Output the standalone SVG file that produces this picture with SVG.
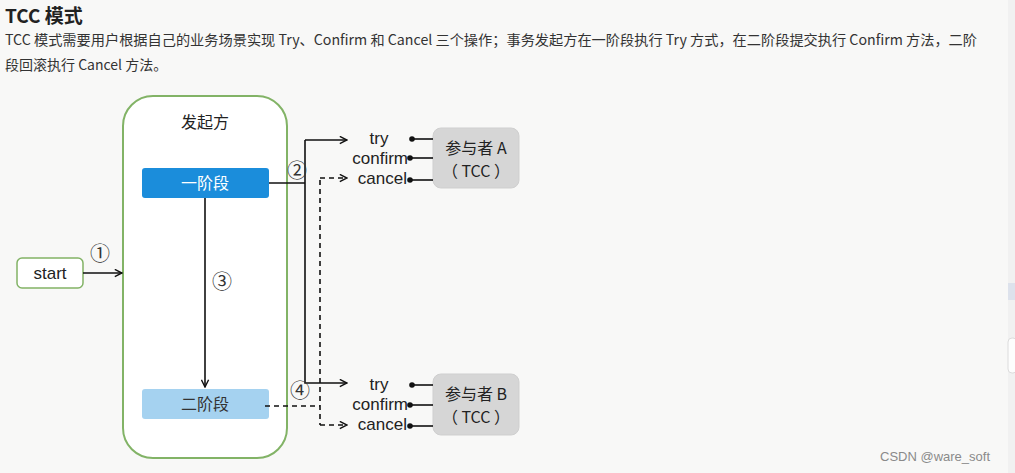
<svg xmlns="http://www.w3.org/2000/svg" width="1015" height="473" viewBox="0 0 1015 473">
<style>
text{font-family:"Liberation Sans","Noto Sans CJK SC",sans-serif;fill:#222}
.cn{font-family:"Noto Sans CJK SC","Liberation Sans",sans-serif}
.p{font-size:14px;fill:#333}
.lbl{font-size:17px;text-anchor:middle}
.num{font-size:20px;text-anchor:middle;fill:#333}
.ln{stroke:#111;stroke-width:1.6;fill:none}
.dash{stroke:#111;stroke-width:1.6;fill:none;stroke-dasharray:5 4}
.part{fill:#d6d6d6;stroke:#cfcfcf}
</style>
<defs>
<marker id="ar" viewBox="0 0 10 10" refX="9" refY="5" markerWidth="9" markerHeight="9" markerUnits="userSpaceOnUse" orient="auto">
<path d="M1,1 L9,5 L1,9" fill="none" stroke="#111" stroke-width="1.6"/>
</marker>
<marker id="dot" viewBox="0 0 6 6" refX="3" refY="3" markerWidth="6" markerHeight="6" markerUnits="userSpaceOnUse">
<circle cx="3" cy="3" r="2.8" fill="#111"/>
</marker>
</defs>
<rect width="1015" height="473" fill="#f8f8f7"/>
<rect x="1008" y="0" width="7" height="473" fill="#f1f1f1"/>
<rect x="1008" y="283" width="7" height="17" fill="#dde2ec"/>
<rect x="1008" y="338" width="9" height="35" rx="4" fill="#fdfdfd" stroke="#dcdcdc"/>

<g id="header">
<text x="5" y="23" class="cn" style="font-size:19px;font-weight:bold;fill:#222">TCC 模式</text>
<text x="5" y="45" class="cn p" textLength="972" lengthAdjust="spacingAndGlyphs">TCC 模式需要用户根据自己的业务场景实现 Try、Confirm 和 Cancel 三个操作；事务发起方在一阶段执行 Try 方式，在二阶段提交执行 Confirm 方法，二阶</text>
<text x="5" y="70" class="cn p">段回滚执行 Cancel 方法。</text>
</g>

<g id="initiator">
<rect x="123" y="96" width="164" height="362" rx="30" fill="#fff" stroke="#82b366" stroke-width="2"/>
<text x="205" y="128" class="cn lbl" style="font-size:16px">发起方</text>
</g>
<g id="phase1">
<rect x="142" y="168" width="127" height="30" rx="3" fill="#1b8ddb"/>
<text x="205" y="189" class="cn lbl" style="font-size:16px;fill:#fff">一阶段</text>
</g>
<g id="phase2">
<rect x="142" y="389" width="127" height="30" rx="3" fill="#a5d2f0"/>
<text x="205" y="410" class="cn lbl" style="font-size:16px;fill:#333">二阶段</text>
</g>
<g id="start">
<rect x="17" y="258" width="66" height="30" rx="5" fill="#fff" stroke="#82b366" stroke-width="1.5"/>
<text x="50" y="279" class="lbl">start</text>
</g>
<g id="participantA">
<rect x="433" y="128" width="86" height="60" rx="8" class="part"/>
<text x="476" y="154" class="cn lbl" style="font-size:16px">参与者 A</text>
<text x="476" y="177" class="cn lbl" style="font-size:16px">（ TCC ）</text>
</g>
<g id="participantB">
<rect x="433" y="374" width="86" height="61" rx="8" class="part"/>
<text x="476" y="400" class="cn lbl" style="font-size:16px">参与者 B</text>
<text x="476" y="423" class="cn lbl" style="font-size:16px">（ TCC ）</text>
</g>

<g id="connectors">
<line x1="83" y1="273" x2="122" y2="273" class="ln" marker-end="url(#ar)"/>
<line x1="205" y1="198" x2="205" y2="387" class="ln" marker-end="url(#ar)"/>
<path d="M269,183 H305" class="ln"/>
<path d="M305,140 V383 H347" class="ln" marker-end="url(#ar)"/>
<line x1="305" y1="140" x2="347" y2="140" class="ln" marker-end="url(#ar)"/>
<path d="M265,406 H320" class="dash"/>
<path d="M320,180 V425" class="dash"/>
<line x1="320" y1="178" x2="347" y2="178" class="dash" marker-end="url(#ar)"/>
<line x1="320" y1="425" x2="347" y2="425" class="dash" marker-end="url(#ar)"/>
<line x1="412" y1="139" x2="433" y2="139" class="ln" marker-start="url(#dot)"/>
<line x1="410" y1="158" x2="433" y2="158" class="ln" marker-start="url(#dot)"/>
<line x1="410" y1="180" x2="433" y2="180" class="ln" marker-start="url(#dot)"/>
<line x1="412" y1="385" x2="433" y2="385" class="ln" marker-start="url(#dot)"/>
<line x1="410" y1="405" x2="433" y2="405" class="ln" marker-start="url(#dot)"/>
<line x1="410" y1="426" x2="433" y2="426" class="ln" marker-start="url(#dot)"/>
<text x="379" y="144" class="lbl">try</text>
<text x="408" y="164" class="lbl" style="text-anchor:end">confirm</text>
<text x="407" y="184" class="lbl" style="text-anchor:end">cancel</text>
<text x="379" y="390" class="lbl">try</text>
<text x="408" y="410" class="lbl" style="text-anchor:end">confirm</text>
<text x="407" y="430" class="lbl" style="text-anchor:end">cancel</text>
<text x="100" y="261" class="num">①</text>
<text x="222" y="289" class="num">③</text>
<text x="297" y="178" class="num">②</text>
<text x="300" y="398" class="num">④</text>
</g>
<text x="880" y="461" style="font-size:13px;fill:#8a8a8a">CSDN @ware_soft</text>
</svg>
